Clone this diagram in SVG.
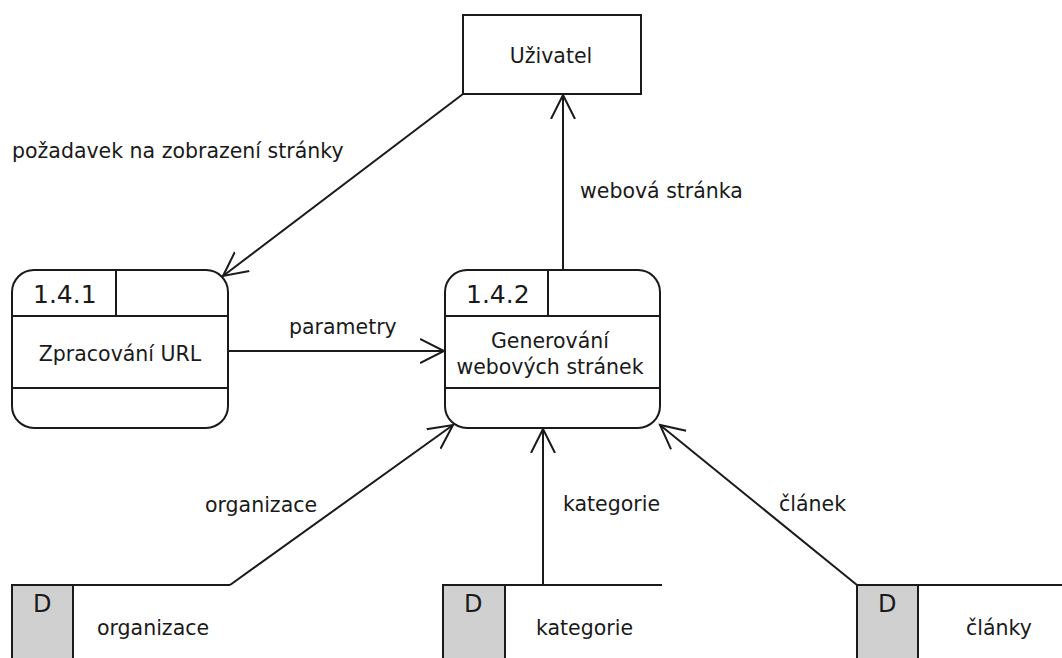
<svg xmlns="http://www.w3.org/2000/svg" width="1062" height="658" viewBox="0 0 1062 658">
<style>
.s{fill:none;stroke:#1a1a1a;stroke-width:2}
.b{fill:#fff;stroke:#1a1a1a;stroke-width:2}
.g{fill:#d0d0d0;stroke:#1a1a1a;stroke-width:2}
text{font-family:"DejaVu Sans",sans-serif;font-size:20.5px;fill:#1a1a1a}
.n{font-size:25px}
.d{font-size:24px}
.m{text-anchor:middle}
</style>
<defs>
<marker id="a" markerWidth="30" markerHeight="30" refX="24" refY="12" orient="auto" markerUnits="userSpaceOnUse" viewBox="0 0 30 24">
<path d="M0,0 L24,12 L0,24" fill="none" stroke="#1a1a1a" stroke-width="2"/>
</marker>
</defs>
<rect width="1062" height="658" fill="#fff"/>
<g id="connectors">
<line class="s" x1="463" y1="94" x2="223" y2="276" marker-end="url(#a)"/>
<line class="s" x1="563" y1="270" x2="563" y2="95" marker-end="url(#a)"/>
<line class="s" x1="229" y1="351" x2="444" y2="351" marker-end="url(#a)"/>
<line class="s" x1="230" y1="585" x2="453" y2="425" marker-end="url(#a)"/>
<line class="s" x1="543" y1="585" x2="543" y2="429" marker-end="url(#a)"/>
<line class="s" x1="857" y1="585" x2="660" y2="425" marker-end="url(#a)"/>
<text x="12" y="158">požadavek na zobrazení stránky</text>
<text x="580" y="198">webová stránka</text>
<text x="289" y="334">parametry</text>
<text x="205" y="512">organizace</text>
<text x="563" y="511">kategorie</text>
<text x="779" y="511">článek</text>
</g>
<g id="uzivatel">
<rect class="b" x="463" y="15" width="178" height="79"/>
<text class="m" x="551" y="63">Uživatel</text>
</g>
<g id="p141">
<rect class="b" x="12" y="270" width="216" height="158" rx="22"/>
<line class="s" x1="12" y1="316" x2="228" y2="316"/>
<line class="s" x1="116" y1="270" x2="116" y2="316"/>
<line class="s" x1="12" y1="388" x2="228" y2="388"/>
<text class="n" x="33" y="303">1.4.1</text>
<text class="m" x="120" y="361">Zpracování URL</text>
</g>
<g id="p142">
<rect class="b" x="445" y="270" width="215" height="158" rx="22"/>
<line class="s" x1="445" y1="316" x2="660" y2="316"/>
<line class="s" x1="548" y1="270" x2="548" y2="316"/>
<line class="s" x1="445" y1="388" x2="660" y2="388"/>
<text class="n" x="466" y="303">1.4.2</text>
<text class="m" x="550" y="348">Generování</text>
<text class="m" x="550" y="374">webových stránek</text>
</g>
<g id="d-organizace">
<rect class="g" x="12" y="585" width="61" height="90"/>
<line class="s" x1="73" y1="585" x2="230" y2="585"/>
<text class="d" x="33" y="612">D</text>
<text x="97" y="635">organizace</text>
</g>
<g id="d-kategorie">
<rect class="g" x="443" y="585" width="62" height="90"/>
<line class="s" x1="505" y1="585" x2="662" y2="585"/>
<text class="d" x="464" y="612">D</text>
<text x="536" y="635">kategorie</text>
</g>
<g id="d-clanky">
<rect class="g" x="857" y="585" width="61" height="90"/>
<line class="s" x1="918" y1="585" x2="1062" y2="585"/>
<text class="d" x="878" y="612">D</text>
<text x="966" y="635">články</text>
</g>
</svg>
